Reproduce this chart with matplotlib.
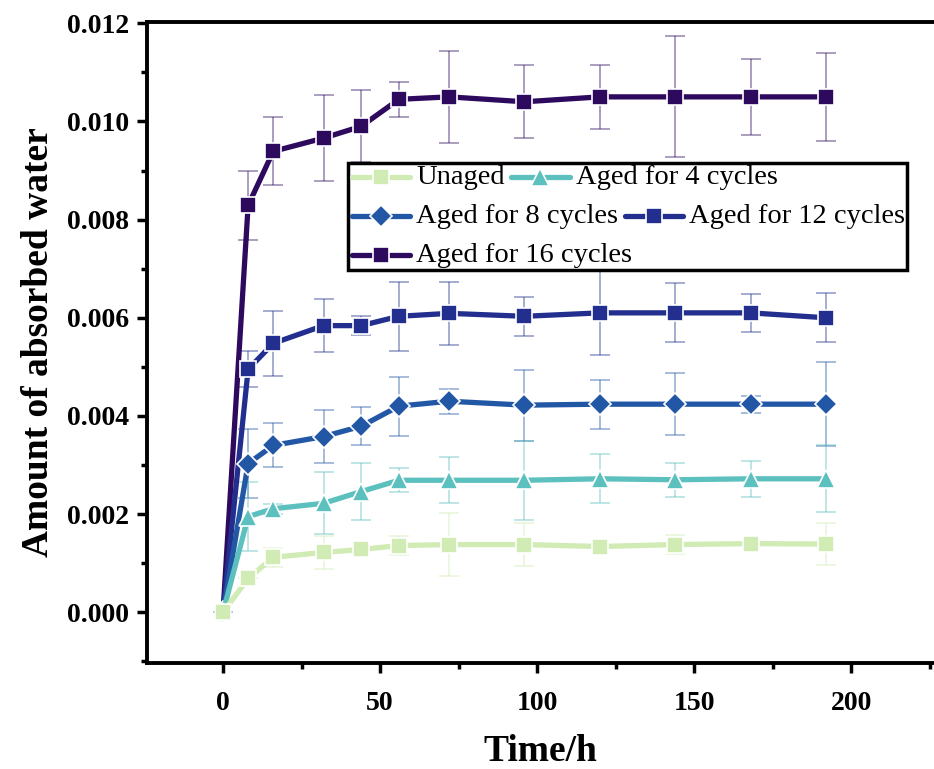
import numpy as np
import matplotlib
matplotlib.use('Agg')
import matplotlib.pyplot as plt
from matplotlib.lines import Line2D
from matplotlib.offsetbox import DrawingArea, TextArea, HPacker, VPacker, AnchoredOffsetbox
from matplotlib.ticker import MultipleLocator

plt.rcParams['font.family'] = ['Liberation Serif', 'DejaVu Serif']

# ---- data ----
hours = [0, 8, 16, 32, 44, 56, 72, 96, 120, 144, 168, 192]

unaged = [0, 0.00069, 0.00112, 0.00122, 0.00128, 0.00136, 0.00138, 0.00138, 0.00134, 0.00138, 0.00140, 0.00139]
unaged_err = [0, 0, 0.0002, 0.00033, 0, 0.0002, 0.00065, 0.00044, 0, 0.0002, 0, 0.00042]

aged4 = [0, 0.00195, 0.00211, 0.00222, 0.00246, 0.00269, 0.00269, 0.00269, 0.00272, 0.00270, 0.00272, 0.00272]
aged4_err = [0, 0.0007, 0.0001, 0.00063, 0.00058, 0.00024, 0.00047, 0.0008, 0.0005, 0.00035, 0.00037, 0.00068]

aged8 = [0, 0.00303, 0.0034, 0.00358, 0.00379, 0.0042, 0.0043, 0.00422, 0.00424, 0.00424, 0.00424, 0.00424]
aged8_err = [0, 0.0007, 0.00045, 0.00054, 0.00039, 0.0006, 0.00025, 0.00072, 0.0005, 0.00063, 0.00017, 0.00085]

aged12 = [0, 0.00495, 0.00548, 0.00584, 0.00584, 0.00603, 0.00609, 0.00603, 0.0061, 0.0061, 0.0061, 0.0060]
aged12_err = [0, 0.00037, 0.00066, 0.00054, 0.0002, 0.0007, 0.00064, 0.0004, 0.00085, 0.0006, 0.00038, 0.0005]

aged16 = [0, 0.00829, 0.00939, 0.00966, 0.0099, 0.01045, 0.0105, 0.0104, 0.0105, 0.0105, 0.0105, 0.0105]
aged16_err = [0, 0.0007, 0.00069, 0.00087, 0.00073, 0.00036, 0.00093, 0.00074, 0.00065, 0.00123, 0.00078, 0.0009]

labels = ['Unaged', 'Aged for 4 cycles', 'Aged for 8 cycles', 'Aged for 12 cycles', 'Aged for 16 cycles']
series = [unaged, aged4, aged8, aged12, aged16]
errors = [unaged_err, aged4_err, aged8_err, aged12_err, aged16_err]

# colour, marker, marker size
styles = [
    ('#d0ebb3', 's', 11),
    ('#5cc0bf', '^', 13),
    ('#2257a6', 'D', 11.5),
    ('#232f8e', 's', 11),
    ('#2d0a5e', 's', 11),
]

fig = plt.figure(figsize=(9.34, 7.69), dpi=100)
ax = fig.add_axes([0.1574, 0.138, 0.8426, 0.8337])

# draw heaviest series first so the unaged one sits on top (as in the original)
for vals, err, (col, mk, ms) in reversed(list(zip(series, errors, styles))):
    ax.errorbar(hours, vals, yerr=err, fmt='none', ecolor=col, alpha=0.4,
                elinewidth=1.4, capsize=7, capthick=1.4, zorder=2)
    ax.plot(hours, vals, color=col, lw=3.8, marker=mk, ms=ms,
            mec='white', mew=1.2, solid_capstyle='round', zorder=3)

ax.set_xlim(-24.2, 226.4)
ax.set_ylim(-0.00103, 0.01203)
ax.xaxis.set_major_locator(MultipleLocator(50))
ax.xaxis.set_minor_locator(MultipleLocator(25))
ax.yaxis.set_major_locator(MultipleLocator(0.002))
ax.yaxis.set_minor_locator(MultipleLocator(0.001))
ax.yaxis.set_major_formatter(matplotlib.ticker.FormatStrFormatter('%.3f'))

for s in ['left', 'bottom', 'top']:
    ax.spines[s].set_linewidth(2.8)
ax.spines['right'].set_visible(False)
ax.tick_params(which='major', direction='out', length=7, width=2.5, labelsize=20, pad=6)
ax.tick_params(which='minor', direction='out', length=4, width=2.5)
ax.tick_params(top=False, right=False, which='both')
for lab in ax.get_xticklabels() + ax.get_yticklabels():
    lab.set_fontweight('bold')
ax.tick_params(axis='x', pad=13)

ax.set_xlabel('Time/h', fontsize=27, fontweight='bold', labelpad=13)
ax.set_ylabel('Amount of absorbed water', fontsize=27, fontweight='bold', labelpad=8)


# Origin-style legend: rows laid out freely, not in aligned columns
def legend_handle(col, mk, ms):
    da = DrawingArea(45, 18, 0, 0)
    da.add_artist(Line2D([1.5, 43.5], [9, 9], color=col, lw=3.8, solid_capstyle='round'))
    da.add_artist(Line2D([22.5], [9], color=col, marker=mk, ms=ms, mec='white', mew=1.2))
    return da


def legend_text(txt):
    return TextArea(txt, textprops=dict(fontsize=20.5, color='black'))


rows_idx = [[0, 1], [2, 3], [4]]
rows = []
for idx in rows_idx:
    kids = []
    for i in idx:
        kids.append(legend_handle(*styles[i]))
        kids.append(legend_text(labels[i]))
    rows.append(HPacker(children=kids, align='center', pad=0, sep=3))
vbox = VPacker(children=rows, align='left', pad=0, sep=10)
leg = AnchoredOffsetbox(loc='upper left', child=vbox, pad=0.15, frameon=True,
                        bbox_to_anchor=(0.255, 0.78), bbox_transform=ax.transAxes,
                        borderpad=0)
leg.patch.set_boxstyle('square', pad=0)
leg.patch.set_edgecolor('black')
leg.patch.set_linewidth(2.5)
leg.zorder = 5
ax.add_artist(leg)

fig.savefig('out.png', dpi=100)
